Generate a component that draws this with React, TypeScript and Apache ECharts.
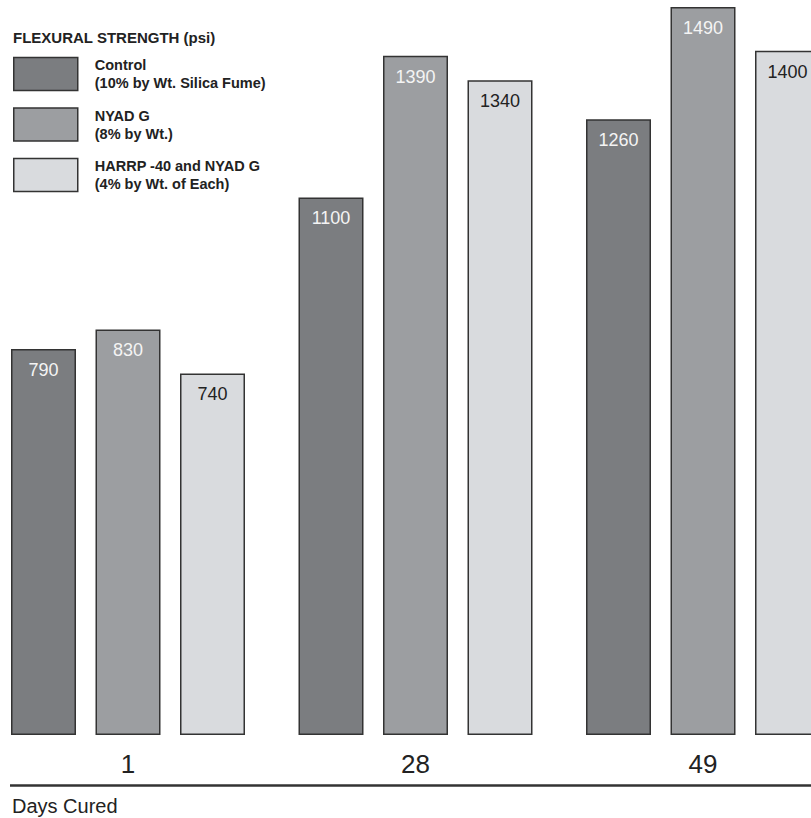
import React, { useEffect, useRef } from "react";
import * as echarts from "echarts";

const categories = ["1", "28", "49"];
const seriesNames = [
  "Control\n(10% by Wt. Silica Fume)",
  "NYAD G\n(8% by Wt.)",
  "HARRP -40 and NYAD G\n(4% by Wt. of Each)",
];
const controlValues = [790, 1100, 1260];
const nyadValues = [830, 1390, 1490];
const harrpValues = [740, 1340, 1400];
const seriesColors = ["#7b7d80", "#9c9ea1", "#d9dbde"];
const labelColors = ["#f4f4f4", "#f4f4f4", "#222222"];

const FONT = "'Liberation Sans', Arial, Helvetica, sans-serif";

export default function App() {
  const ref = useRef<HTMLDivElement>(null);
  useEffect(() => {
    if (!ref.current) return;
    const chart = echarts.init(ref.current, undefined, { renderer: "svg" });
    const values = [controlValues, nyadValues, harrpValues];
    chart.setOption({
      animation: false,
      backgroundColor: "#ffffff",
      textStyle: { fontFamily: FONT },
      title: {
        text: "FLEXURAL STRENGTH (psi)",
        left: 13,
        top: 28,
        padding: 0,
        textStyle: {
          fontFamily: FONT,
          fontSize: 15,
          fontWeight: "bold",
          color: "#222",
          lineHeight: 18,
        },
      },
      legend: {
        orient: "vertical",
        left: 13,
        top: 56,
        padding: 0,
        itemWidth: 64,
        itemHeight: 33,
        itemGap: 14.5,
        icon: "rect",
        selectedMode: false,
        itemStyle: { borderColor: "#333", borderWidth: 1.5 },
        textStyle: {
          fontFamily: FONT,
          fontSize: 14.5,
          fontWeight: "bold",
          color: "#222",
          lineHeight: 18,
          padding: [0, 0, 0, 12],
        },
        data: seriesNames,
      },
      grid: {
        left: -15.75,
        width: 862.5,
        top: 2,
        bottom: 83,
        containLabel: false,
        outerBoundsMode: "none",
      },
      xAxis: {
        type: "category",
        data: categories,
        axisLine: { show: false },
        axisTick: { show: false },
        axisLabel: {
          fontFamily: FONT,
          fontSize: 26,
          color: "#222",
          margin: 16,
        },
      },
      yAxis: {
        type: "value",
        min: 0,
        max: 1500,
        show: false,
        splitLine: { show: false },
      },
      series: seriesNames.map((name, i) => ({
        name,
        type: "bar",
        data: values[i],
        barWidth: 65,
        barGap: "30%",
        itemStyle: {
          color: seriesColors[i],
          borderColor: "#333",
          borderWidth: 1.5,
        },
        label: {
          show: true,
          position: "insideTop",
          distance: 12,
          fontFamily: FONT,
          fontSize: 18,
          color: labelColors[i],
        },
      })),
      graphic: [
        {
          type: "line",
          shape: { x1: 10, y1: 785.5, x2: 811, y2: 785.5 },
          style: { stroke: "#333", lineWidth: 2.5 },
        },
        {
          type: "text",
          x: 12,
          y: 806,
          style: {
            text: "Days Cured",
            fontFamily: FONT,
            fontSize: 20,
            fill: "#222",
            verticalAlign: "middle",
            align: "left",
          },
        },
      ],
    });
    return () => chart.dispose();
  }, []);
  return (
    <div
      ref={ref}
      style={{ position: "absolute", left: 0, top: 0, width: 811, height: 818 }}
    />
  );
}
